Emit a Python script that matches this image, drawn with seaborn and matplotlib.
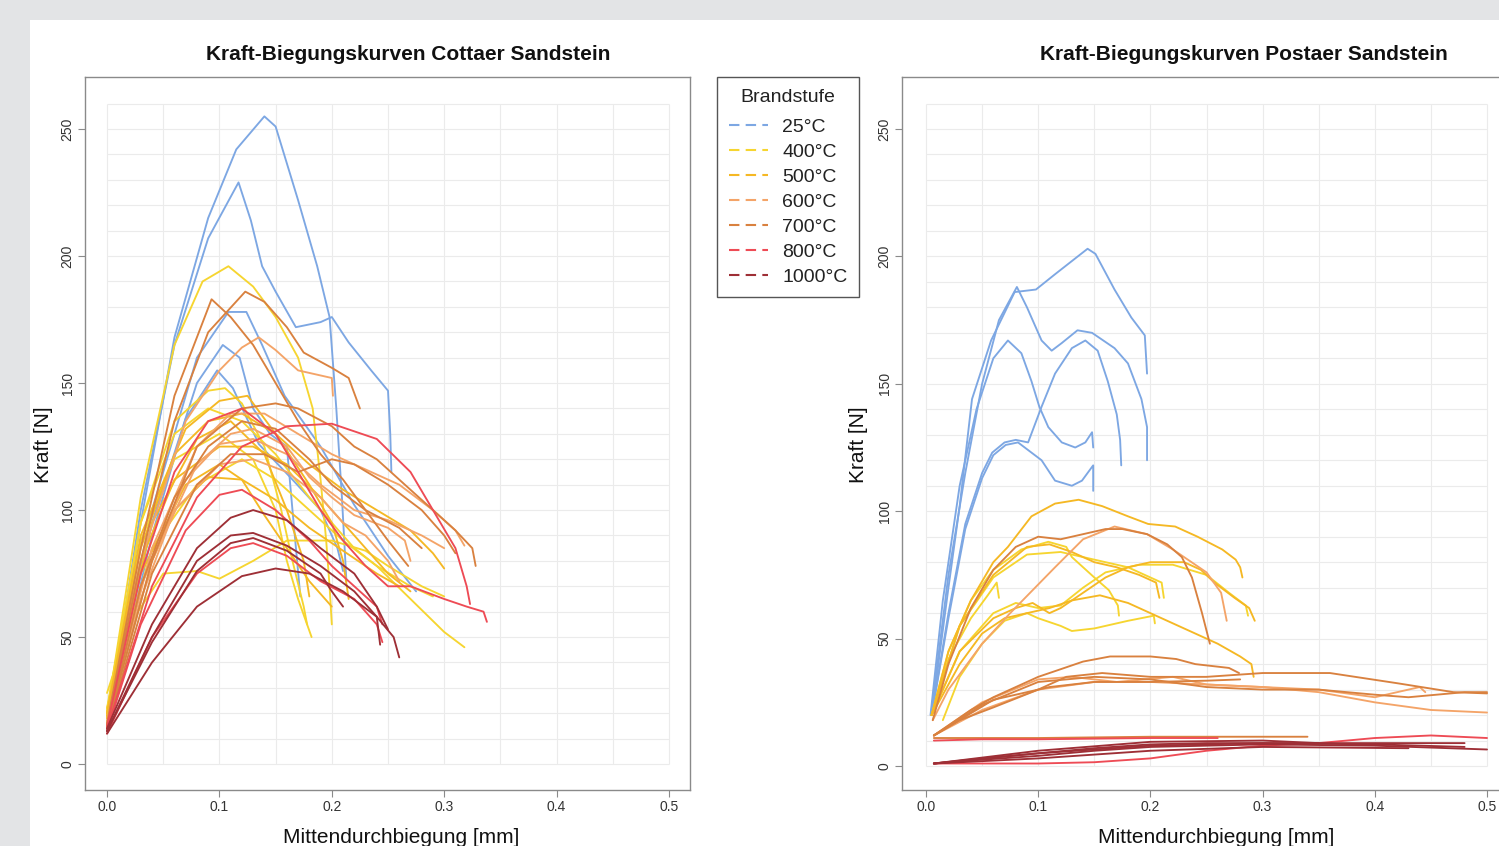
import numpy as np
import pandas as pd
import matplotlib
matplotlib.use("Agg")
import matplotlib.pyplot as plt
from matplotlib.lines import Line2D
from matplotlib.patches import Rectangle
import seaborn as sns

# ---------------- labels / categories ----------------
stages = ["25°C", "400°C", "500°C", "600°C", "700°C", "800°C", "1000°C"]
stage_colors = ["#7da7e3", "#f6d530", "#f5b824", "#f4a468", "#d9813f", "#ee4b55", "#9e2f36"]
titles = ["Kraft-Biegungskurven Cottaer Sandstein", "Kraft-Biegungskurven Postaer Sandstein"]
x_label = "Mittendurchbiegung [mm]"
y_label = "Kraft [N]"
legend_title = "Brandstufe"
x_ticks = [0.0, 0.1, 0.2, 0.3, 0.4, 0.5]
x_tick_labels = ["0.0", "0.1", "0.2", "0.3", "0.4", "0.5"]
y_ticks = [0, 50, 100, 150, 200, 250]
y_tick_labels = ["0", "50", "100", "150", "200", "250"]

# ---------------- Cottaer Sandstein curves (deflection mm, force N) ----------------
c25 = [
    [(0, 15), (0.03, 95), (0.06, 168), (0.09, 215), (0.115, 242), (0.14, 255), (0.15, 251), (0.17, 222),
     (0.187, 196), (0.198, 176), (0.204, 140), (0.209, 105), (0.213, 72)],
    [(0, 15), (0.03, 100), (0.06, 165), (0.09, 207), (0.117, 229), (0.128, 214), (0.138, 196), (0.15, 186),
     (0.168, 172), (0.19, 174), (0.2, 176), (0.215, 166), (0.235, 155), (0.25, 147), (0.252, 130), (0.253, 115)],
    [(0, 14), (0.04, 100), (0.08, 160), (0.108, 178), (0.124, 178), (0.138, 165), (0.158, 145), (0.19, 125),
     (0.22, 102), (0.25, 82), (0.275, 68)],
    [(0, 14), (0.04, 95), (0.08, 150), (0.103, 165), (0.118, 160), (0.13, 140), (0.145, 130), (0.16, 125),
     (0.165, 100), (0.172, 66)],
    [(0, 14), (0.04, 90), (0.07, 136), (0.098, 155), (0.112, 148), (0.135, 126), (0.165, 112), (0.19, 100),
     (0.205, 85), (0.21, 76)],
]
c400 = [
    [(0, 20), (0.03, 105), (0.06, 165), (0.085, 190), (0.108, 196), (0.13, 188), (0.15, 176), (0.17, 160),
     (0.183, 140), (0.19, 112), (0.195, 88), (0.198, 70), (0.2, 55)],
    [(0, 22), (0.03, 95), (0.06, 135), (0.09, 147), (0.105, 148), (0.12, 142), (0.14, 125), (0.155, 100),
     (0.165, 80), (0.175, 62), (0.178, 55)],
    [(0, 22), (0.04, 85), (0.08, 110), (0.12, 120), (0.15, 112), (0.18, 100), (0.21, 88), (0.24, 78),
     (0.27, 65), (0.3, 52), (0.318, 46)],
    [(0, 28), (0.02, 55), (0.05, 75), (0.08, 76), (0.1, 73), (0.13, 80), (0.16, 88), (0.2, 88), (0.23, 84),
     (0.25, 78), (0.28, 70), (0.3, 66)],
    [(0, 20), (0.03, 88), (0.06, 120), (0.1, 130), (0.13, 120), (0.15, 100), (0.16, 80), (0.17, 65), (0.182, 50)],
    [(0, 21), (0.03, 95), (0.06, 130), (0.09, 140), (0.12, 135), (0.15, 122), (0.18, 105), (0.2, 95),
     (0.22, 85), (0.24, 78), (0.27, 70), (0.29, 66)],
]
c500 = [
    [(0, 20), (0.03, 90), (0.07, 132), (0.1, 143), (0.125, 145), (0.15, 130), (0.18, 110), (0.2, 95),
     (0.21, 80), (0.215, 65)],
    [(0, 19), (0.03, 85), (0.06, 122), (0.09, 135), (0.12, 138), (0.15, 130), (0.18, 118), (0.21, 108),
     (0.24, 100), (0.27, 92), (0.29, 83), (0.3, 77)],
    [(0, 20), (0.03, 80), (0.06, 112), (0.1, 125), (0.13, 125), (0.16, 118), (0.19, 105), (0.22, 90),
     (0.25, 75), (0.27, 68)],
    [(0, 18), (0.03, 75), (0.07, 110), (0.1, 118), (0.12, 112), (0.14, 98), (0.16, 85), (0.18, 72), (0.2, 62)],
    [(0, 19), (0.04, 95), (0.08, 128), (0.11, 135), (0.14, 122), (0.16, 100), (0.175, 80), (0.18, 66)],
    [(0, 18), (0.03, 70), (0.06, 100), (0.09, 113), (0.12, 112), (0.15, 104), (0.18, 93), (0.21, 84),
     (0.24, 75), (0.26, 70)],
]
c600 = [
    [(0, 17), (0.03, 80), (0.07, 135), (0.1, 155), (0.12, 164), (0.135, 168), (0.15, 163), (0.17, 155),
     (0.19, 153), (0.2, 152), (0.201, 145)],
    [(0, 16), (0.04, 85), (0.08, 125), (0.11, 138), (0.14, 138), (0.17, 130), (0.2, 122), (0.23, 116),
     (0.26, 110), (0.29, 100), (0.31, 92), (0.318, 86)],
    [(0, 16), (0.03, 70), (0.07, 112), (0.1, 126), (0.13, 128), (0.16, 122), (0.19, 110), (0.22, 100),
     (0.25, 96), (0.28, 90), (0.3, 85)],
    [(0, 15), (0.04, 80), (0.08, 118), (0.11, 130), (0.13, 132), (0.16, 125), (0.18, 113), (0.2, 105),
     (0.22, 98), (0.25, 93), (0.265, 88), (0.27, 80)],
    [(0, 15), (0.03, 65), (0.06, 100), (0.1, 118), (0.13, 120), (0.16, 115), (0.19, 105), (0.21, 95),
     (0.23, 90), (0.25, 80), (0.26, 72)],
]
c700 = [
    [(0, 16), (0.03, 85), (0.06, 145), (0.093, 183), (0.11, 176), (0.13, 165), (0.15, 150), (0.17, 135),
     (0.19, 122), (0.21, 112), (0.23, 100), (0.25, 88), (0.268, 78)],
    [(0, 15), (0.03, 80), (0.06, 135), (0.09, 170), (0.123, 186), (0.14, 182), (0.16, 172), (0.175, 162),
     (0.2, 156), (0.215, 152), (0.225, 140)],
    [(0, 15), (0.04, 80), (0.08, 125), (0.12, 140), (0.15, 142), (0.17, 140), (0.2, 133), (0.22, 125),
     (0.24, 120), (0.26, 112), (0.29, 100), (0.31, 92), (0.325, 85), (0.328, 78)],
    [(0, 14), (0.03, 70), (0.06, 105), (0.09, 125), (0.12, 135), (0.15, 132), (0.18, 120), (0.2, 110),
     (0.23, 100), (0.26, 93), (0.28, 85)],
    [(0, 14), (0.04, 75), (0.08, 110), (0.11, 122), (0.14, 122), (0.17, 115), (0.2, 120), (0.22, 118),
     (0.25, 110), (0.28, 100), (0.3, 90), (0.31, 83)],
]
c800 = [
    [(0, 14), (0.04, 70), (0.08, 105), (0.12, 125), (0.16, 133), (0.2, 134), (0.24, 128), (0.27, 115),
     (0.29, 100), (0.31, 85), (0.32, 70), (0.323, 63)],
    [(0, 15), (0.03, 75), (0.06, 115), (0.09, 135), (0.12, 140), (0.15, 130), (0.17, 115), (0.19, 100),
     (0.21, 88), (0.23, 78), (0.25, 70), (0.27, 70), (0.3, 65), (0.32, 62), (0.335, 60), (0.338, 56)],
    [(0, 13), (0.03, 55), (0.07, 92), (0.1, 106), (0.12, 108), (0.15, 100), (0.18, 88), (0.2, 78),
     (0.22, 70), (0.24, 62), (0.245, 55)],
    [(0, 12), (0.04, 50), (0.08, 75), (0.11, 85), (0.13, 87), (0.16, 82), (0.19, 72), (0.22, 65),
     (0.24, 55), (0.245, 48)],
]
c1000 = [
    [(0, 14), (0.04, 55), (0.08, 85), (0.11, 97), (0.13, 100), (0.16, 96), (0.19, 85), (0.22, 75),
     (0.24, 62), (0.25, 53)],
    [(0, 13), (0.04, 50), (0.08, 80), (0.11, 90), (0.13, 91), (0.16, 86), (0.19, 78), (0.22, 68),
     (0.24, 58), (0.243, 47)],
    [(0, 12), (0.04, 40), (0.08, 62), (0.12, 74), (0.15, 77), (0.18, 75), (0.21, 68), (0.24, 58),
     (0.255, 50), (0.26, 42)],
    [(0, 13), (0.04, 48), (0.08, 76), (0.11, 87), (0.13, 89), (0.16, 84), (0.19, 75), (0.2, 68), (0.21, 62)],
]

# ---------------- Postaer Sandstein curves ----------------
p25 = [
    [(0.005, 20), (0.02, 70), (0.03, 102), (0.041, 144), (0.058, 167), (0.079, 186), (0.098, 187),
     (0.115, 193), (0.144, 203), (0.151, 201), (0.168, 187), (0.183, 176), (0.195, 169), (0.197, 154)],
    [(0.005, 22), (0.02, 75), (0.035, 115), (0.05, 150), (0.065, 175), (0.081, 188), (0.09, 180),
     (0.103, 167), (0.112, 163), (0.121, 166), (0.135, 171), (0.148, 170), (0.168, 164), (0.18, 158),
     (0.192, 144), (0.197, 133), (0.197, 120)],
    [(0.004, 20), (0.015, 65), (0.03, 110), (0.045, 140), (0.06, 160), (0.073, 167), (0.085, 162),
     (0.094, 151), (0.101, 141), (0.109, 133), (0.121, 127), (0.133, 125), (0.142, 127), (0.148, 131),
     (0.149, 125)],
    [(0.005, 20), (0.02, 60), (0.035, 95), (0.05, 115), (0.059, 123), (0.07, 127), (0.08, 128), (0.091, 127),
     (0.103, 141), (0.115, 154), (0.13, 164), (0.142, 167), (0.153, 163), (0.162, 151), (0.17, 138),
     (0.173, 128), (0.174, 118)],
    [(0.005, 20), (0.02, 58), (0.035, 93), (0.05, 113), (0.06, 122), (0.071, 126), (0.082, 127),
     (0.091, 124), (0.103, 120), (0.115, 112), (0.13, 110), (0.139, 112), (0.149, 118), (0.149, 108)],
]
p400 = [
    [(0.005, 20), (0.02, 45), (0.04, 65), (0.06, 77), (0.085, 85), (0.109, 88), (0.125, 86), (0.13, 82),
     (0.15, 74), (0.163, 69), (0.171, 63), (0.172, 59)],
    [(0.005, 20), (0.03, 55), (0.06, 74), (0.09, 83), (0.12, 84), (0.15, 81), (0.18, 78), (0.2, 74),
     (0.21, 72), (0.212, 66)],
    [(0.005, 20), (0.02, 42), (0.04, 58), (0.055, 67), (0.063, 72), (0.065, 66)],
    [(0.015, 18), (0.03, 35), (0.05, 48), (0.07, 57), (0.09, 60), (0.1, 58), (0.12, 55), (0.13, 53),
     (0.15, 54), (0.18, 57), (0.203, 59), (0.204, 56)],
    [(0.005, 20), (0.03, 45), (0.06, 60), (0.08, 64), (0.1, 62), (0.12, 63), (0.14, 70), (0.16, 76),
     (0.19, 79), (0.22, 79), (0.25, 75), (0.27, 68), (0.285, 63), (0.287, 59)],
]
p500 = [
    [(0.005, 20), (0.02, 45), (0.04, 65), (0.06, 80), (0.073, 86), (0.094, 98), (0.115, 103), (0.136, 104.5),
     (0.157, 102), (0.18, 98), (0.198, 95), (0.222, 94), (0.242, 90), (0.264, 85), (0.276, 81),
     (0.28, 78), (0.282, 74)],
    [(0.005, 20), (0.03, 45), (0.06, 58), (0.08, 62), (0.095, 64), (0.11, 60), (0.12, 62), (0.14, 68),
     (0.16, 74), (0.18, 78), (0.2, 80), (0.23, 80), (0.245, 77), (0.257, 72), (0.275, 66), (0.288, 62),
     (0.293, 57)],
    [(0.005, 20), (0.03, 40), (0.05, 52), (0.07, 58), (0.09, 60), (0.11, 62), (0.13, 65), (0.155, 67),
     (0.18, 64), (0.2, 60), (0.22, 56), (0.24, 52), (0.26, 48), (0.28, 43), (0.29, 40), (0.292, 35)],
    [(0.005, 20), (0.03, 55), (0.06, 75), (0.09, 86), (0.11, 87), (0.13, 84), (0.15, 80), (0.17, 78),
     (0.19, 75), (0.205, 72), (0.208, 66)],
]
p600 = [
    [(0.006, 18), (0.02, 30), (0.05, 48), (0.075, 60), (0.095, 69), (0.115, 78), (0.14, 89), (0.168, 94),
     (0.197, 91), (0.22, 85), (0.25, 76), (0.263, 68), (0.268, 57)],
    [(0.007, 12), (0.05, 22), (0.1, 30), (0.15, 33), (0.2, 33), (0.25, 32), (0.3, 31), (0.35, 29),
     (0.4, 25), (0.45, 22), (0.5, 21)],
    [(0.007, 12), (0.05, 25), (0.1, 34), (0.13, 35), (0.17, 33), (0.22, 35), (0.25, 32), (0.3, 31),
     (0.35, 30), (0.4, 27), (0.43, 30), (0.44, 31), (0.445, 29)],
]
p700 = [
    [(0.006, 18), (0.02, 40), (0.04, 62), (0.06, 77), (0.08, 86), (0.1, 90), (0.12, 89), (0.14, 91),
     (0.16, 93), (0.175, 93), (0.197, 91), (0.215, 87), (0.228, 82), (0.237, 74), (0.246, 60), (0.253, 48)],
    [(0.007, 12), (0.04, 22), (0.06, 27), (0.1, 35), (0.14, 41), (0.164, 43), (0.2, 43), (0.223, 42),
     (0.24, 40), (0.27, 38.5), (0.279, 36.5)],
    [(0.007, 12), (0.03, 18), (0.06, 23), (0.1, 30), (0.125, 35), (0.157, 36.5), (0.2, 35), (0.25, 35),
     (0.3, 36.5), (0.36, 36.5), (0.42, 32.5), (0.47, 29), (0.5, 28.5)],
    [(0.007, 12), (0.05, 24), (0.1, 33), (0.15, 35), (0.2, 34), (0.25, 31), (0.3, 30), (0.35, 30),
     (0.4, 28), (0.43, 27), (0.48, 29), (0.5, 29)],
    [(0.007, 12), (0.06, 26), (0.11, 31), (0.15, 33), (0.2, 33), (0.25, 33.5), (0.28, 34)],
    [(0.007, 11), (0.1, 11), (0.2, 11.5), (0.3, 11.5), (0.34, 11.5)],
]
p800 = [
    [(0.007, 10), (0.05, 10.5), (0.1, 10.5), (0.2, 11), (0.26, 11)],
    [(0.007, 1), (0.1, 1), (0.15, 1.5), (0.2, 3), (0.25, 6), (0.3, 8), (0.35, 9), (0.4, 11), (0.45, 12),
     (0.5, 11)],
]
p1000 = [
    [(0.007, 1), (0.05, 3), (0.1, 5), (0.15, 7), (0.2, 8.5), (0.25, 9), (0.3, 9), (0.4, 8.5), (0.48, 7.5)],
    [(0.007, 1), (0.05, 2.5), (0.1, 4), (0.15, 6), (0.2, 7.5), (0.3, 8.5), (0.4, 8), (0.5, 6.5)],
    [(0.007, 1), (0.1, 3), (0.2, 6), (0.3, 7.5), (0.43, 7)],
    [(0.007, 1), (0.1, 5), (0.2, 8), (0.3, 9), (0.48, 9)],
    [(0.007, 1), (0.1, 6), (0.2, 9.5), (0.3, 10), (0.35, 9)],
]

cottaer = [c25, c400, c500, c600, c700, c800, c1000]
postaer = [p25, p400, p500, p600, p700, p800, p1000]

# ---------------- long-form table ----------------
rows = []
for panel, groups in (("C", cottaer), ("P", postaer)):
    for stage, curves in zip(stages, groups):
        for i, curve in enumerate(curves):
            for k, (xv, yv) in enumerate(curve):
                rows.append({"panel": panel, "Brandstufe": stage, "curve": f"{panel}-{stage}-{i}",
                             "k": k, "x": xv, "y": yv})
df = pd.DataFrame(rows)

# ---------------- figure ----------------
sns.set_style("white")
plt.rcParams["font.family"] = ["Liberation Sans", "DejaVu Sans"]

W, H = 1499, 846
fig = plt.figure(figsize=(W / 100, H / 100), dpi=100)
fig.patch.set_facecolor("#e3e4e6")
fig.add_artist(Rectangle((30 / W, 0), 1, 1 - 20 / H, transform=fig.transFigure,
                         facecolor="white", edgecolor="none", zorder=0))

palette = dict(zip(stages, stage_colors))
axes_px = [(85, 690, -10.2, 270.5), (902, 1508, -9.4, 270.4)]
title_x = [408, 1244]
xlabel_cx = [0.522, 0.518]
axs = []
for j, panel in enumerate(["C", "P"]):
    x0, x1, ylo, yhi = axes_px[j]
    ax = fig.add_axes([x0 / W, 1 - 790 / H, (x1 - x0) / W, 713 / H])
    ax.set_facecolor("white")
    ax.set_xlim(-0.0196 if j == 0 else -0.0214, 0.5187)
    ax.set_ylim(ylo, yhi)
    # light background grid inside data range
    ax.hlines(np.arange(0, 261, 10), 0, 0.5, colors="#ebebeb", lw=0.8, zorder=0)
    ax.vlines(np.arange(0, 0.501, 0.05), 0, 260, colors="#ebebeb", lw=0.8, zorder=0)
    sub = df[df["panel"] == panel]
    sns.lineplot(data=sub, x="x", y="y", hue="Brandstufe", hue_order=stages, palette=palette,
                 units="curve", estimator=None, sort=False, lw=1.35, legend=False, ax=ax, zorder=2)
    for line in ax.lines:
        line.set_solid_joinstyle("round")
        line.set_solid_capstyle("round")
    for s in ax.spines.values():
        s.set_color("#8a8a8a")
        s.set_linewidth(1.0)
    ax.set_xticks(x_ticks)
    ax.set_xticklabels(x_tick_labels)
    ax.set_yticks(y_ticks)
    ax.set_yticklabels(y_tick_labels, rotation=90, va="center")
    ax.tick_params(axis="both", which="both", bottom=True, left=True, direction="out", length=5,
                   width=0.8, color="#8a8a8a", labelsize=10, labelcolor="#333333", pad=2.5)
    ax.set_xlabel(x_label, fontsize=15, color="#111111")
    ax.set_ylabel(y_label, fontsize=15, color="#111111")
    ax.xaxis.set_label_coords(xlabel_cx[j], -0.0673)
    ax.xaxis.label.set_verticalalignment("center")
    ax.yaxis.set_label_coords(-0.069 if j == 0 else -0.072, 0.484)
    ax.yaxis.label.set_verticalalignment("center")
    fig.text(title_x[j] / W, 1 - 54 / H, titles[j], ha="center", va="center",
             fontsize=15, fontweight="bold", color="#111111")
    axs.append(ax)

handles = [Line2D([0], [0], color=c, lw=1.5, ls=(0, (5, 3))) for c in stage_colors]
leg = fig.legend(handles, stages, title=legend_title, loc="upper left",
                 bbox_to_anchor=(717 / W, 1 - 77 / H), frameon=True, fancybox=False,
                 edgecolor="#555555", framealpha=1, fontsize=14, title_fontsize=14,
                 handlelength=2.0, handletextpad=0.75, labelspacing=0.38, borderpad=0.6,
                 borderaxespad=0)
leg.get_frame().set_linewidth(1.0)
leg._legend_box.sep = 9
for t in leg.get_texts():
    t.set_color("#222222")
leg.get_title().set_color("#222222")

fig.savefig("out.png", dpi=100, facecolor=fig.get_facecolor())
